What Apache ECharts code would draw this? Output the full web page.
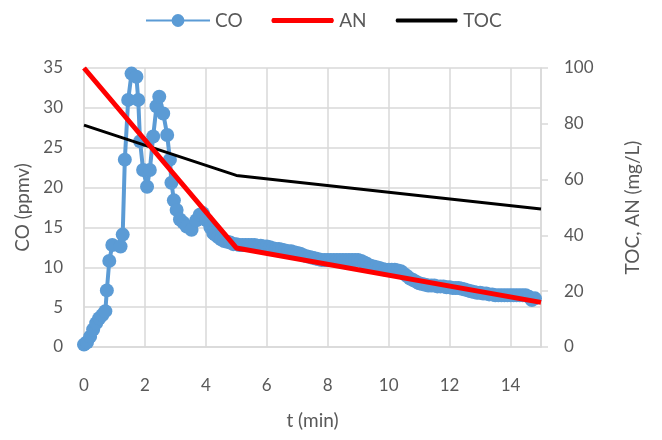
<!DOCTYPE html>
<html>
<head>
<meta charset="utf-8">
<script src="https://cdn.jsdelivr.net/npm/echarts@6/dist/echarts.min.js"></script>
<style>
  html, body { margin: 0; padding: 0; background: #fff; }
  #main { width: 662px; height: 440px; }
</style>
</head>
<body>
<div id="main"></div>
<script>
// CO measured (ppmv) vs time (min)
const coTime = [0, 0.1, 0.2, 0.3, 0.4, 0.5, 0.6, 0.7, 0.75, 0.83, 0.93, 1.2, 1.27, 1.34, 1.45, 1.56, 1.72, 1.78, 1.84, 1.94, 2.07, 2.16, 2.27, 2.38, 2.47, 2.6, 2.73, 2.82, 2.87, 2.95, 3.04, 3.15, 3.26, 3.37, 3.53, 3.69, 3.8, 3.9, 4.02, 4.15, 4.24,
  4.3, 4.4, 4.5, 4.6, 4.7, 4.8, 4.9, 5.0, 5.1, 5.2, 5.3, 5.4, 5.5, 5.6, 5.7, 5.8, 5.9, 6.0,
  6.1, 6.2, 6.3, 6.4, 6.5, 6.6, 6.7, 6.8, 6.9, 7.0, 7.1, 7.2, 7.3, 7.4, 7.5, 7.6, 7.7, 7.8, 7.9, 8.0,
  8.1, 8.2, 8.3, 8.4, 8.5, 8.6, 8.7, 8.8, 8.9, 9.0, 9.1, 9.2, 9.3, 9.4, 9.5, 9.6, 9.7, 9.8, 9.9, 10.0,
  10.1, 10.2, 10.3, 10.4, 10.5, 10.6, 10.7, 10.8, 10.9, 11.0, 11.1, 11.2, 11.3, 11.4, 11.5, 11.6, 11.7, 11.8, 11.9, 12.0,
  12.1, 12.2, 12.3, 12.4, 12.5, 12.6, 12.7, 12.8, 12.9, 13.0, 13.1, 13.2, 13.3, 13.4, 13.5, 13.6, 13.7, 13.8, 13.9, 14.0,
  14.1, 14.2, 14.3, 14.4, 14.5, 14.6, 14.7, 14.8];
const coValue = [0.3, 0.6, 1.3, 2.2, 3.0, 3.6, 4.0, 4.5, 7.1, 10.8, 12.8, 12.6, 14.1, 23.5, 31.0, 34.3, 33.9, 31.0, 25.8, 22.2, 20.1, 22.2, 26.4, 30.2, 31.4, 29.3, 26.6, 23.5, 20.6, 18.4, 17.2, 16.0, 15.6, 15.1, 14.7, 15.9, 16.6, 16.8, 15.9, 15.0, 14.3,
  14.1, 13.8, 13.5, 13.3, 13.2, 13.1, 12.9, 12.9, 12.8, 12.8, 12.8, 12.8, 12.8, 12.8, 12.7, 12.7, 12.6, 12.6,
  12.5, 12.4, 12.3, 12.3, 12.2, 12.1, 12.0, 12.0, 11.9, 11.8, 11.7, 11.5, 11.4, 11.3, 11.2, 11.1, 11.0, 10.9, 10.9, 10.9,
  10.9, 10.9, 10.9, 10.9, 10.9, 10.9, 10.9, 10.9, 10.9, 10.9, 10.8, 10.6, 10.4, 10.2, 10.1, 10.0, 9.9, 9.8, 9.7, 9.7,
  9.7, 9.7, 9.6, 9.5, 9.2, 8.9, 8.6, 8.4, 8.2, 8.0, 7.9, 7.8, 7.7, 7.7, 7.7, 7.6, 7.6, 7.6, 7.5, 7.5,
  7.4, 7.4, 7.4, 7.3, 7.2, 7.1, 7.0, 6.9, 6.8, 6.8, 6.7, 6.7, 6.6, 6.6, 6.5, 6.5, 6.5, 6.5, 6.5, 6.5,
  6.5, 6.5, 6.5, 6.5, 6.5, 6.3, 5.9, 6.1];

// AN and TOC (mg/L)
const anTime = [0, 5, 15];
const anValue = [100, 35.5, 16];
const tocTime = [0, 5, 15];
const tocValue = [79.5, 61.5, 49.5];

const xTicks = [0, 2, 4, 6, 8, 10, 12, 14];

function pairs(xs, ys) {
    return xs.map((x, i) => [x, ys[i]]);
}

// plain line for the legend: tiny dots at top and bottom keep the icon box 64x16
const anIcon = 'path://M0,0L0.01,0L0.01,0.01Z M2,5.5L62,5.5Q64.5,8 62,10.5L2,10.5Q-0.5,8 2,5.5Z M0,16L0.01,16L0.01,15.99Z';
const tocIcon = 'path://M0,0L0.01,0L0.01,0.01Z M2,6L62,6Q64,8 62,10L2,10Q0,8 2,6Z M0,16L0.01,16L0.01,15.99Z';

let chartDom = document.getElementById('main');
let myChart = echarts.init(chartDom);
let textColor = '#595959';
let gridColor = '#d9d9d9';
let font = 'Lato, "Noto Sans", sans-serif';

let option = {
    animation: false,
    textStyle: { fontFamily: font },
    legend: {
        top: 6,
        left: 140,
        itemWidth: 64,
        itemHeight: 16,
        itemGap: 28,
        textStyle: { fontSize: 19, color: textColor, fontFamily: font },
        data: [
            { name: 'CO' },
            { name: 'AN', icon: anIcon, itemStyle: { color: '#ff0000' } },
            { name: 'TOC', icon: tocIcon, itemStyle: { color: '#000000' } }
        ]
    },
    grid: { left: 84, right: 121, top: 68, bottom: 93 },
    xAxis: {
        type: 'value',
        min: 0,
        max: 15,
        interval: 2,
        name: 't (min)',
        nameLocation: 'middle',
        nameGap: 64,
        nameTextStyle: { fontSize: 19, color: textColor },
        axisLine: { lineStyle: { color: gridColor, width: 1.5 } },
        axisTick: { show: false },
        axisLabel: {
            fontSize: 17,
            color: textColor,
            margin: 30,
            formatter: v => xTicks.includes(v) ? String(v) : ''
        },
        splitLine: { show: true, lineStyle: { color: gridColor, width: 1.5 } }
    },
    yAxis: [{
        type: 'value',
        min: 0,
        max: 35,
        interval: 5,
        name: 'CO (ppmv)',
        nameLocation: 'middle',
        nameGap: 44,
        nameRotate: 90,
        nameTextStyle: { fontSize: 19, color: textColor },
        axisLine: { show: true, lineStyle: { color: gridColor, width: 1.5 } },
        axisTick: { show: false },
        axisLabel: { fontSize: 17, color: textColor, margin: 21 },
        splitLine: { show: true, lineStyle: { color: gridColor, width: 1.5 } }
    }, {
        type: 'value',
        min: 0,
        max: 100,
        interval: 20,
        position: 'right',
        name: 'TOC, AN (mg/L)',
        nameLocation: 'middle',
        nameGap: 82,
        nameRotate: 90,
        nameTextStyle: { fontSize: 19, color: textColor },
        axisLine: { show: true, lineStyle: { color: gridColor, width: 1.5 } },
        axisTick: { show: true, length: 7, lineStyle: { color: gridColor, width: 1.5 } },
        axisLabel: { fontSize: 17, color: textColor, margin: 23 },
        splitLine: { show: false }
    }],
    series: [{
        name: 'CO',
        type: 'line',
        yAxisIndex: 0,
        data: pairs(coTime, coValue),
        symbol: 'circle',
        symbolSize: 14,
        showAllSymbol: true,
        color: '#5b9bd5',
        lineStyle: { width: 4, color: '#5b9bd5' },
        itemStyle: { color: '#5b9bd5' },
        z: 2
    }, {
        name: 'AN',
        type: 'line',
        yAxisIndex: 1,
        data: pairs(anTime, anValue),
        symbol: 'none',
        color: '#ff0000',
        lineStyle: { width: 5, color: '#ff0000' },
        z: 4
    }, {
        name: 'TOC',
        type: 'line',
        yAxisIndex: 1,
        data: pairs(tocTime, tocValue),
        symbol: 'none',
        color: '#000000',
        lineStyle: { width: 3, color: '#000000' },
        z: 3
    }]
};

myChart.setOption(option);
</script>
</body>
</html>
